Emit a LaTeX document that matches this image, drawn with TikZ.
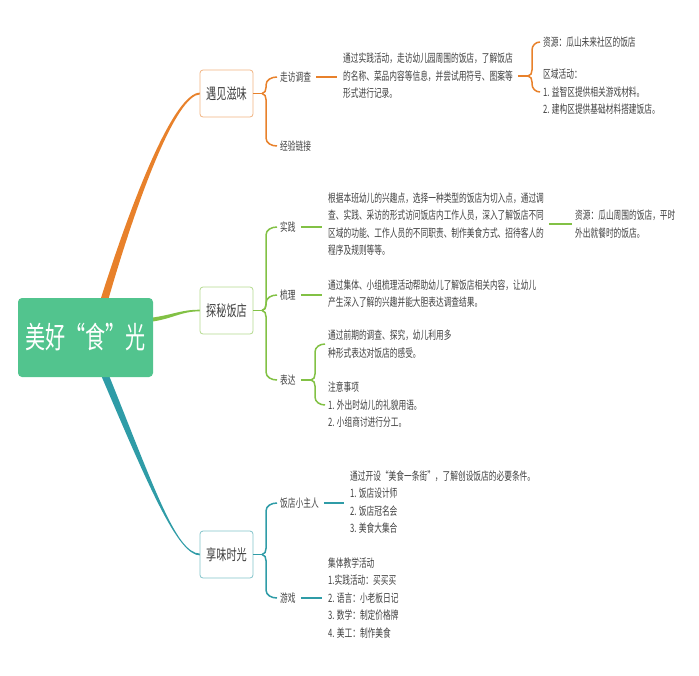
\documentclass[tikz,border=0pt]{standalone}
\usepackage{fontspec}
\setmainfont{Noto Sans CJK SC}[FakeStretch=0.67]
\usetikzlibrary{calc}
\pgfdeclarelayer{bg}
\pgfsetlayers{bg,main}
\definecolor{cor}{HTML}{E8812B}
\definecolor{cgr}{HTML}{82C145}
\definecolor{ctl}{HTML}{2F9CA7}
\definecolor{croot}{HTML}{52C48E}
\definecolor{ctx}{HTML}{404040}
\newcommand\bru[4]{\draw[br=#1] (#2) to[out=0,in=-90] ++(4,-6) -- ($(#3)+(-#4,8)$) to[out=90,in=180] (#3);}
\newcommand\brd[4]{\draw[br=#1] (#2) to[out=0,in=90] ++(4,6) -- ($(#3)+(-#4,-8)$) to[out=-90,in=180] (#3);}
\begin{document}
\begin{tikzpicture}[x=1pt,y=-1pt,
  every node/.style={text=ctx},
  sm/.style={font=\fontsize{11.5}{17.5}\selectfont, align=left, inner xsep=3pt, inner ysep=0pt, anchor=west},
  lab/.style={font=\fontsize{11.5}{13}\selectfont, inner xsep=3pt, inner ysep=1pt, anchor=west},
  lone/.style={draw=#1, rounded corners=3pt, fill=white, minimum width=53pt, minimum height=47pt, font=\fontsize{15.2}{17}\selectfont, line width=0.8pt, inner sep=0pt},
  br/.style={draw=#1, line width=1.5pt},
]
\useasboundingbox (0,0) rectangle (699,675);

% root and first level
\node[fill=croot, rounded corners=4pt, minimum width=135pt, minimum height=79pt, text=white, font=\fontsize{30}{32}\selectfont, inner sep=0pt] (root) at (85.5,337.5) {美好“食”光};
\node[lone=cor!60] (a) at (226.5,93.5) {遇见滋味};
\node[lone=cgr!60] (b) at (226.5,310.5) {探秘饭店};
\node[lone=ctl!60] (c) at (226.5,554.5) {享味时光};

% second level labels
\node[lab] (a1) at (277,77) {走访调查};
\node[lab] (a2) at (277,146) {经验链接};
\node[lab] (b1) at (277,227) {实践};
\node[lab] (b2) at (277,295) {梳理};
\node[lab] (b3) at (277,380) {表达};
\node[lab] (c1) at (277,503) {饭店小主人};
\node[lab] (c2) at (277,598) {游戏};

% text blocks
\node[sm] (t1) at (340,76) {通过实践活动，走访幼儿园周围的饭店，了解饭店\\的名称、菜品内容等信息，并尝试用符号、图案等\\形式进行记录。};
\node[sm] (r1) at (540,42) {资源：瓜山未来社区的饭店};
\node[sm] (r2) at (540,92) {区域活动：\\1. 益智区提供相关游戏材料。\\2. 建构区提供基础材料搭建饭店。};
\node[sm] (tb1) at (325,224) {根据本班幼儿的兴趣点，选择一种类型的饭店为切入点，通过调\\查、实践、采访的形式访问饭店内工作人员，深入了解饭店不同\\区域的功能、工作人员的不同职责、制作美食方式、招待客人的\\程序及规则等等。};
\node[sm] (rs) at (572,224) {资源：瓜山周围的饭店，平时\\外出就餐时的饭店。};
\node[sm] (tb2) at (325,293.5) {通过集体、小组梳理活动帮助幼儿了解饭店相关内容，让幼儿\\产生深入了解的兴趣并能大胆表达调查结果。};
\node[sm] (tb3a) at (325,344) {通过前期的调查、探究，幼儿利用多\\种形式表达对饭店的感受。};
\node[sm] (tb3b) at (325,405) {注意事项\\1. 外出时幼儿的礼貌用语。\\2. 小组商讨进行分工。};
\node[sm] (tc1) at (347,502) {通过开设“美食一条街”，了解创设饭店的必要条件。\\1. 饭店设计师\\2. 饭店冠名会\\3. 美食大集合};
\node[sm] (tc2) at (325,598) {集体教学活动\\1.实践活动：买买买\\2. 语言：小老板日记\\3. 数学：制定价格牌\\4. 美工：制作美食};

% main tapered branches
\begin{pgfonlayer}{bg}
\fill[cor] ($(root.north)+(13,8)$) .. controls +(36.5,-116) and +(-25,0) .. ($(a.west)+(0.5,-0.9)$) -- ($(a.west)+(0.5,0.9)$) .. controls +(-23,0) and +(32.5,-114) .. ($(root.north)+(21,8)$) -- cycle;
\fill[ctl] ($(root.south)+(13,-8)$) .. controls +(51.5,121) and +(-22,0) .. ($(c.west)+(0.5,0.9)$) -- ($(c.west)+(0.5,-0.9)$) .. controls +(-24,0) and +(47.5,118) .. ($(root.south)+(21,-8)$) -- cycle;
\fill[cgr] ($(root.east)+(-4,-19.5)$) .. controls +(24,-3) and +(-20,0) .. ($(b.west)+(0.5,-0.8)$) -- ($(b.west)+(0.5,0.8)$) .. controls +(-20,0) and +(24,-3) .. ($(root.east)+(-4,-15.5)$) -- cycle;
\end{pgfonlayer}

% orange sub-branches
\coordinate (ja) at ($(a.east -| a1.west)+(-15,0)$);
\draw[br=cor] (a.east) -- (ja);
\bru{cor}{ja}{a1.west}{11}
\brd{cor}{ja}{a2.west}{11}
\draw[br=cor] ($(a1.east)+(2,0)$) -- ($(a1.east -| t1.west)+(-3,0)$);
\coordinate (jt) at ($(t1.east -| r1.west)+(-12,0)$);
\draw[br=cor] ($(t1.east)+(2,0)$) -- (jt);
\bru{cor}{jt}{r1.west}{8}
\brd{cor}{jt}{r2.west}{8}

% green sub-branches
\coordinate (jb) at ($(b.east -| b1.west)+(-15,0)$);
\draw[br=cgr] (b.east) -- (jb);
\bru{cgr}{jb}{b1.west}{11}
\bru{cgr}{jb}{b2.west}{11}
\brd{cgr}{jb}{b3.west}{11}
\draw[br=cgr] ($(b1.east)+(2,0)$) -- ($(b1.east -| tb1.west)+(-3,0)$);
\draw[br=cgr] ($(tb1.east)+(2,0)$) -- ($(tb1.east -| rs.west)$);
\draw[br=cgr] ($(b2.east)+(2,0)$) -- ($(b2.east -| tb2.west)+(-3,0)$);
\coordinate (j3) at ($(b3.east -| tb3a.west)+(-14,0)$);
\draw[br=cgr] ($(b3.east)+(2,0)$) -- (j3);
\bru{cgr}{j3}{tb3a.west}{10}
\brd{cgr}{j3}{tb3b.west}{10}

% teal sub-branches
\coordinate (jc) at ($(c.east -| c1.west)+(-15,0)$);
\draw[br=ctl] (c.east) -- (jc);
\bru{ctl}{jc}{c1.west}{11}
\brd{ctl}{jc}{c2.west}{11}
\draw[br=ctl] ($(c1.east)+(2,0)$) -- ($(c1.east -| tc1.west)+(-3,0)$);
\draw[br=ctl] ($(c2.east)+(2,0)$) -- ($(c2.east -| tc2.west)+(-3,0)$);
\end{tikzpicture}
\end{document}
